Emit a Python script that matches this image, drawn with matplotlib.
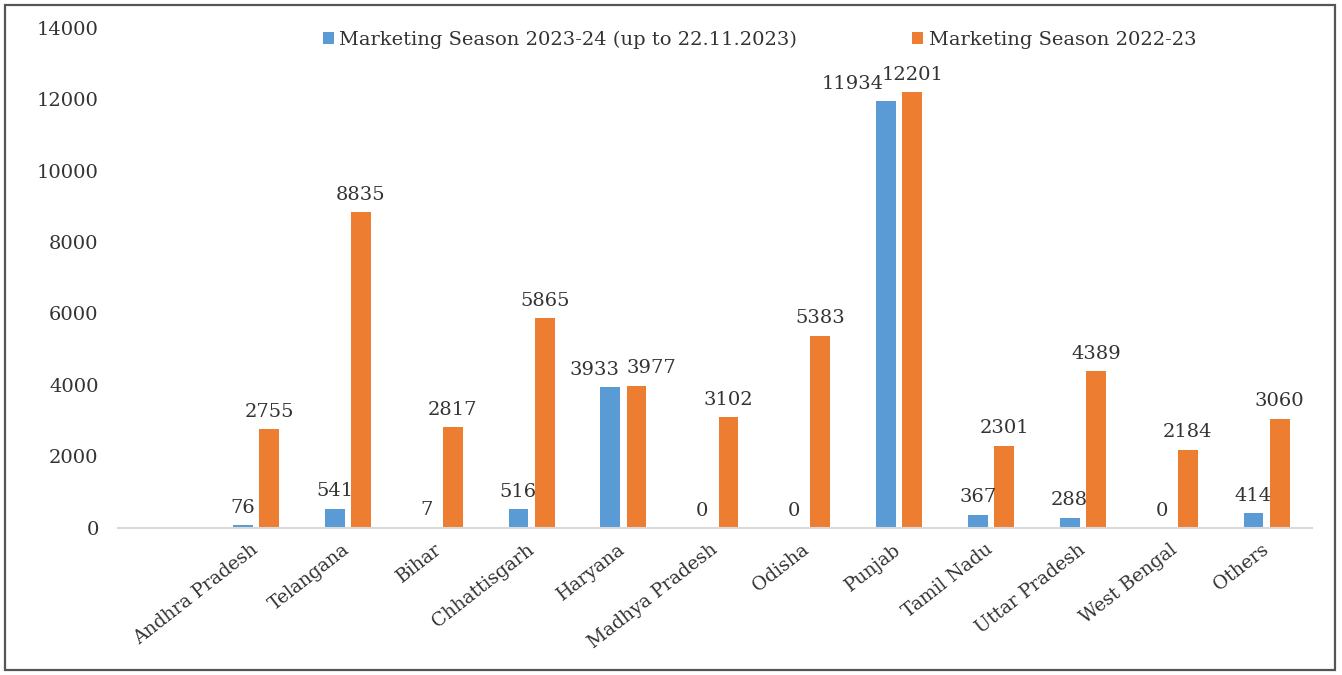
import matplotlib
matplotlib.use("Agg")
import matplotlib.pyplot as plt
from matplotlib.patches import Rectangle
import numpy as np

states = ["Andhra Pradesh", "Telangana", "Bihar", "Chhattisgarh", "Haryana",
          "Madhya Pradesh", "Odisha", "Punjab", "Tamil Nadu", "Uttar Pradesh",
          "West Bengal", "Others"]
season_2023_24 = [76, 541, 7, 516, 3933, 0, 0, 11934, 367, 288, 0, 414]
season_2022_23 = [2755, 8835, 2817, 5865, 3977, 3102, 5383, 12201, 2301, 4389, 2184, 3060]
series_labels = ["Marketing Season 2023-24 (up to 22.11.2023)", "Marketing Season 2022-23"]
y_ticks = [0, 2000, 4000, 6000, 8000, 10000, 12000, 14000]

BLUE = "#5B9BD5"
ORANGE = "#ED7D31"
TEXT = "#333333"
FONT = "DejaVu Serif"

plt.rcParams["font.family"] = FONT

fig = plt.figure(figsize=(13.42, 6.75), dpi=100)
ax = fig.add_axes([0.088, 0.218, 0.890, 0.741])

x = np.arange(len(states))
w = 0.215
off = 0.143
b1 = ax.bar(x - off, season_2023_24, w, color=BLUE, label=series_labels[0], zorder=2)
b2 = ax.bar(x + off, season_2022_23, w, color=ORANGE, label=series_labels[1], zorder=2)

# value labels; a few are nudged sideways where neighbours would collide
nudge_blue = {4: -11, 7: -24}
nudge_orange = {4: 11}
for i, (r, v) in enumerate(zip(b1, season_2023_24)):
    ax.annotate(f"{v}", (r.get_x() + r.get_width() / 2, v),
                xytext=(nudge_blue.get(i, 0), 6), textcoords="offset points",
                ha="center", va="bottom", fontsize=14, color=TEXT)
for i, (r, v) in enumerate(zip(b2, season_2022_23)):
    ax.annotate(f"{v}", (r.get_x() + r.get_width() / 2, v),
                xytext=(nudge_orange.get(i, 0), 6), textcoords="offset points",
                ha="center", va="bottom", fontsize=14, color=TEXT)

ax.set_xlim(-1.5, len(states) - 0.5)
ax.set_ylim(0, 14000)
ax.set_yticks(y_ticks)
ax.set_yticklabels([str(t) for t in y_ticks], fontsize=14, color=TEXT)
ax.set_xticks(x)
ax.set_xticklabels(states, rotation=38, ha="right", va="center",
                   rotation_mode="anchor", fontsize=13.5, color=TEXT)
ax.tick_params(axis="both", length=0)
ax.tick_params(axis="y", pad=14)
ax.tick_params(axis="x", pad=14)

for s in ["top", "right", "left"]:
    ax.spines[s].set_visible(False)
ax.spines["bottom"].set_color("#D9D9D9")
ax.spines["bottom"].set_linewidth(1.5)

fig.legend(handles=[b1, b2], labels=series_labels, loc="center",
           bbox_to_anchor=(0.566, 0.941), ncol=2, frameon=False,
           fontsize=14, handlelength=0.55, handleheight=0.55,
           handletextpad=0.3, columnspacing=5.9, labelcolor=TEXT)

fig.patches.append(Rectangle((0.004, 0.007), 0.991, 0.986, transform=fig.transFigure,
                             fill=False, edgecolor="#555555", linewidth=1.6))

fig.savefig("out.png", dpi=100, facecolor="white")
